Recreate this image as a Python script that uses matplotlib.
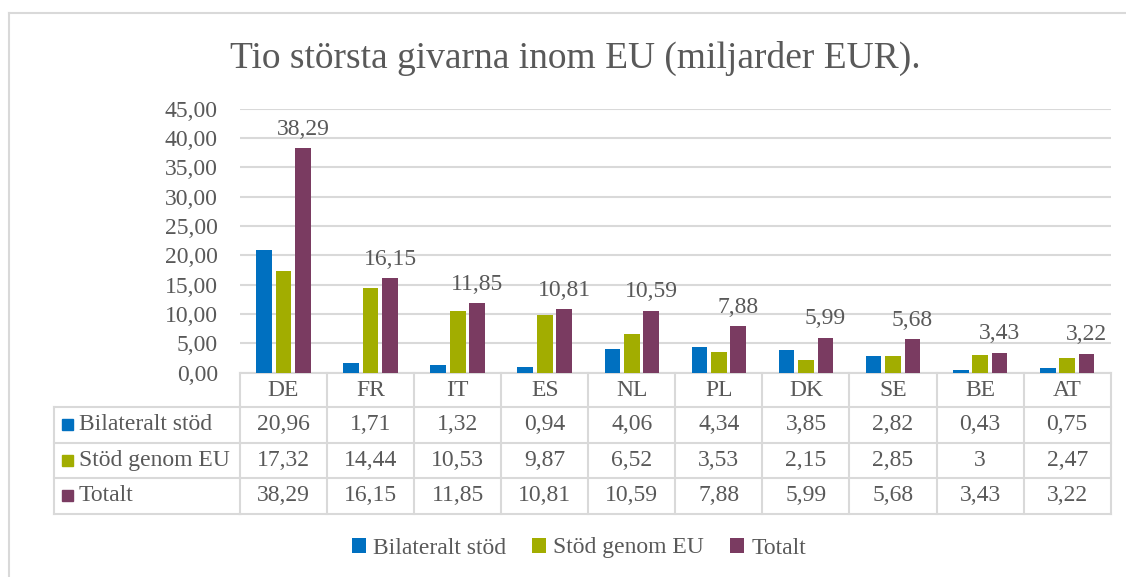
import matplotlib.pyplot as plt
import matplotlib.transforms as mtransforms
from matplotlib.lines import Line2D
from matplotlib.patches import Rectangle

countries = ["DE", "FR", "IT", "ES", "NL", "PL", "DK", "SE", "BE", "AT"]
series = ["Bilateralt stöd", "Stöd genom EU", "Totalt"]
bilateralt = [20.96, 1.71, 1.32, 0.94, 4.06, 4.34, 3.85, 2.82, 0.43, 0.75]
genom_eu = [17.32, 14.44, 10.53, 9.87, 6.52, 3.53, 2.15, 2.85, 3, 2.47]
totalt = [38.29, 16.15, 11.85, 10.81, 10.59, 7.88, 5.99, 5.68, 3.43, 3.22]
yticks = [0, 5, 10, 15, 20, 25, 30, 35, 40, 45]

colors = ["#0070C0", "#A2AD00", "#7A3B61"]
grey = "#595959"
line_c = "#D9D9D9"
plt.rcParams["font.family"] = ["Liberation Serif", "DejaVu Serif"]
fs = 17


def fmt(v):
    if float(v).is_integer():
        return str(int(v))
    return f"{v:.2f}".replace(".", ",")


W, H = 1126, 577
fig = plt.figure(figsize=(W / 100, H / 100), dpi=100)

def fx(p):
    return p / W

def fy(p):
    return 1 - p / H

ax_l, ax_r, ax_t, ax_b = 240, 1110.7, 108.5, 372.7
ax = fig.add_axes([fx(ax_l), fy(ax_b), fx(ax_r - ax_l), (ax_b - ax_t) / H])

data = [bilateralt, genom_eu, totalt]
handles = []
for j, vals in enumerate(data):
    xs = [i + (j - 1) * 0.223 for i in range(len(countries))]
    b = ax.bar(xs, vals, width=0.18, color=colors[j], zorder=3, label=series[j])
    handles.append(b)
    if j == 2:
        for x, v in zip(xs, vals):
            ax.annotate(fmt(v), (x, v), xytext=(0, 6), textcoords="offset points",
                        ha="center", va="bottom", fontsize=fs, color=grey)

ax.set_xlim(-0.5, len(countries) - 0.5)
ax.set_ylim(0, 45)
ax.set_yticks(yticks)
ax.set_yticklabels([f"{t:.2f}".replace(".", ",") for t in yticks], fontsize=fs, color=grey)
ax.tick_params(axis="y", length=0, pad=16)
ax.set_xticks([])
ax.grid(axis="y", color=line_c, lw=1.5, zorder=0)
for s in ["top", "right", "left"]:
    ax.spines[s].set_visible(False)
ax.spines["bottom"].set_color(line_c)
ax.spines["bottom"].set_linewidth(1.5)

# data table below the axes
bt = mtransforms.blended_transform_factory(ax.transData, fig.transFigure)
rows = [373, 407, 442.5, 478, 513.5]
n = len(countries)
for p in rows[1:]:
    fig.add_artist(Line2D([fx(54), fx(ax_l)], [fy(p), fy(p)], color=line_c, lw=1.5))
    fig.add_artist(Line2D([-0.5, n - 0.5], [fy(p), fy(p)], color=line_c, lw=1.5, transform=bt))
for k in range(n + 1):
    fig.add_artist(Line2D([k - 0.5, k - 0.5], [fy(rows[0]), fy(rows[-1])],
                          color=line_c, lw=1.5, transform=bt))
fig.add_artist(Line2D([fx(54), fx(54)], [fy(rows[1]), fy(rows[-1])], color=line_c, lw=1.5))

for i, c in enumerate(countries):
    fig.text(i, fy((rows[0] + rows[1]) / 2), c, transform=bt, ha="center", va="center",
             fontsize=fs, color=grey)
for r, vals in enumerate(data):
    yc = fy((rows[r + 1] + rows[r + 2]) / 2)
    for i, v in enumerate(vals):
        fig.text(i, yc, fmt(v), transform=bt, ha="center", va="center",
                 fontsize=fs, color=grey)
    fig.add_artist(Rectangle((fx(62), yc - 5.5 / H), 11 / W, 11 / H, color=colors[r],
                             transform=fig.transFigure))
    fig.text(fx(79), yc, series[r], ha="left", va="center", fontsize=fs, color=grey)

fig.legend(handles=handles, loc="center", bbox_to_anchor=(fx(579), fy(548)), ncol=3,
           frameon=False, fontsize=fs, handlelength=0.6, handleheight=0.6,
           handletextpad=0.3, columnspacing=1.1, labelcolor=grey)

fig.text(fx(575), fy(68), "Tio största givarna inom EU (miljarder EUR).", ha="center",
         va="baseline", fontsize=27, color=grey)

# chart area border
fig.add_artist(Line2D([fx(8.5), fx(8.5)], [0, fy(12.5)], color=line_c, lw=1.5))
fig.add_artist(Line2D([fx(8.5), 1], [fy(12.5), fy(12.5)], color=line_c, lw=1.5))

fig.savefig("out.png", dpi=100)
